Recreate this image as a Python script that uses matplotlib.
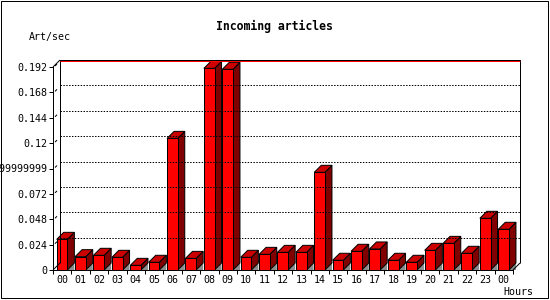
import matplotlib
matplotlib.use("Agg")
import matplotlib.pyplot as plt
from matplotlib.patches import Rectangle

hours = ["00", "01", "02", "03", "04", "05", "06", "07", "08", "09", "10", "11",
         "12", "13", "14", "15", "16", "17", "18", "19", "20", "21", "22", "23", "00"]
art_sec = [0.029, 0.0126, 0.0139, 0.012, 0.0044, 0.0073, 0.1245, 0.011, 0.1907,
           0.1898, 0.012, 0.0148, 0.0167, 0.0167, 0.0924, 0.0092, 0.0177, 0.0199,
           0.0092, 0.0073, 0.0186, 0.0252, 0.0158, 0.0489, 0.0385]
yticks = [0, 0.024, 0.048, 0.072, 0.096, 0.12, 0.144, 0.168, 0.192]
ytick_labels = ["0", "0.024", "0.048", "0.072", "0.09599999999999999",
                "0.12", "0.144", "0.168", "0.192"]

W, H = 550, 300
fig = plt.figure(figsize=(W / 100, H / 100), dpi=100)
fig.patch.set_facecolor("white")

# front plot area in pixels: x 53..513, y 67..270
ax = fig.add_axes([53 / W, (H - 270) / H, 460 / W, 203 / H])
n = len(hours)
ymax = 0.192
ax.set_xlim(0, n)
ax.set_ylim(0, ymax)
ax.patch.set_visible(False)

px_x = n / 460.0       # data units per pixel
px_y = ymax / 203.0
dx = 7 * px_x          # 3d depth
dy = 7 * px_y
lw = 0.72
mono = "DejaVu Sans Mono"

def seg(x, y, **kw):
    ax.plot(x, y, color=kw.pop("color", "black"), lw=kw.pop("lw", lw),
            clip_on=False, solid_capstyle="butt", **kw)

# back wall
seg([dx, dx, n + dx, n + dx], [dy, ymax + dy, ymax + dy, dy])
seg([dx, n + dx], [ymax + dy - px_y, ymax + dy - px_y], color="red")
for v in yticks[1:-1]:
    seg([dx, n + dx], [v + dy, v + dy], linestyle=(0, (1.44, 1.44)))
# depth edges
seg([0, dx], [ymax, ymax + dy])
seg([0, dx], [0, dy])
seg([n, n + dx], [0, dy])
for v in yticks[1:]:
    seg([2 * px_x, 4 * px_x], [v + 1 * px_y, v + 3 * px_y])

# bars
b0, b1 = 0.2, 0.78
for i, v in enumerate(art_sec):
    l, r = i + b0, i + b1
    ax.fill([r, r + dx, r + dx], [0, dy, 0], color="#8c8c8c", lw=0, clip_on=False)
    ax.fill([r, r + dx, r + dx, r], [0, dy, v + dy, v], facecolor="#800000",
            edgecolor="black", lw=lw, clip_on=False)
    ax.fill([l, l + dx, r + dx, r], [v, v + dy, v + dy, v], facecolor="#cc0000",
            edgecolor="black", lw=lw, clip_on=False)
    ax.fill([l, r, r, l], [0, 0, v, v], facecolor="#ff0000",
            edgecolor="black", lw=lw, clip_on=False)

# front axes
for s in ["top", "right"]:
    ax.spines[s].set_visible(False)
for s in ["left", "bottom"]:
    ax.spines[s].set_linewidth(lw)
ax.set_yticks(yticks)
ax.set_yticklabels(ytick_labels, fontfamily=mono, fontsize=7.2)
ax.tick_params(axis="y", length=2.88, width=lw, pad=1)
ax.set_xticks(range(n + 1))
ax.set_xticklabels([])
ax.set_xticks([i + 0.5 for i in range(n)], minor=True)
ax.set_xticklabels(hours, minor=True, fontfamily=mono, fontsize=7.2)
ax.tick_params(axis="x", which="major", length=2.88, width=lw)
ax.tick_params(axis="x", which="minor", length=0, pad=3.3)

fig.text(274 / W, 1 - 26 / H, "Incoming articles", ha="center", va="center",
         fontfamily=mono, fontweight="bold", fontsize=8.3)
fig.text(29 / W, 1 - 37 / H, "Art/sec", ha="left", va="center",
         fontfamily=mono, fontsize=7.2)
fig.text(533 / W, 1 - 292 / H, "Hours", ha="right", va="center",
         fontfamily=mono, fontsize=7.2)

fig.patches.append(Rectangle((0.5 / W, 2.5 / H), 547 / W, 297 / H,
                             transform=fig.transFigure, fill=False,
                             edgecolor="black", lw=lw))

fig.savefig("out.png", dpi=100)
